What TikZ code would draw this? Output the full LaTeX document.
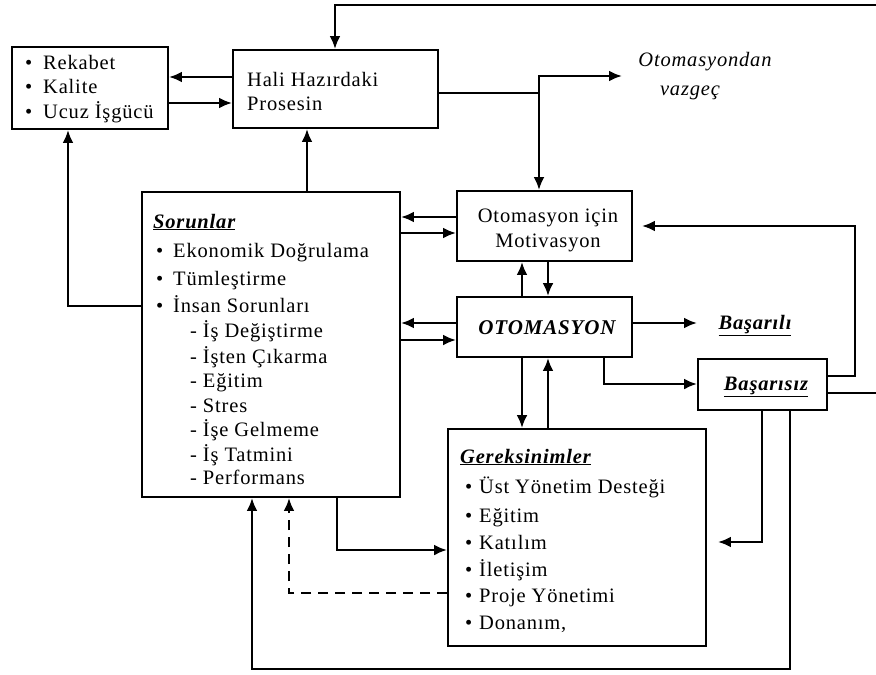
\documentclass[tikz,border=0pt]{standalone}
\usepackage{fontspec}
\setmainfont{Liberation Serif}[LetterSpace=4]
\usetikzlibrary{arrows.meta}
\tikzset{
  box/.style={draw, line width=1.8pt, inner sep=0pt, rectangle},
  conn/.style={line width=2.8pt, -{Latex[length=13pt,width=11pt]}},
  plainline/.style={line width=2.8pt},
  txt/.style={inner sep=0pt, anchor=base west, font=\fontsize{20.5}{24}\selectfont},
  ctxt/.style={txt, anchor=base},
  ttl/.style={txt, font=\fontsize{20.5}{24}\selectfont\bfseries\itshape},
}
\newcommand\itm[2][17pt]{\makebox[#1][l]{\textbullet}#2}
\begin{document}
\begin{tikzpicture}[x=1pt,y=-1pt]
\useasboundingbox (0,0) rectangle (876,675);
\clip (0,0) rectangle (876,675);
% boxes
\node[box, minimum width=156pt, minimum height=82pt] (rek) at (90,88) {};
\node[box, minimum width=205pt, minimum height=78pt] (hali) at (335.5,89) {};
\node[box, minimum width=258pt, minimum height=305pt] (sor) at (271,344.5) {};
\node[box, minimum width=175pt, minimum height=70pt] (mot) at (544.5,226) {};
\node[box, minimum width=175pt, minimum height=60pt] (oto) at (544.5,327) {};
\node[box, minimum width=129pt, minimum height=51pt] (bsz) at (762.5,384.5) {};
\node[box, minimum width=258pt, minimum height=217pt] (ger) at (577,537.5) {};
% texts
\node[txt] (rek1) at (25,69) {\itm[18pt]{Rekabet}};
\node[txt] (rek2) at (25,93) {\itm[18pt]{Kalite}};
\node[txt] (rek3) at (25,118) {\itm[18pt]{Ucuz İşgücü}};
\node[txt] (hal1) at (247,86) {Hali Hazırdaki};
\node[txt] (hal2) at (247,110) {Prosesin};
\node[ctxt] (vz1) at (705,66) {\itshape Otomasyondan};
\node[ctxt] (vz2) at (690,95) {\itshape vazgeç};
\node[ctxt] (mot1) at (548,222) {Otomasyon için};
\node[ctxt] (mot2) at (548,247) {Motivasyon};
\node[ctxt, font=\fontsize{21}{24}\selectfont\bfseries\itshape] (otot) at (547,334) {OTOMASYON};
\node[ctxt, font=\fontsize{20.5}{24}\selectfont\bfseries\itshape] (bsl) at (755,329) {\underline{Başarılı}};
\node[ctxt, font=\fontsize{20.5}{24}\selectfont\bfseries\itshape] (bszt) at (766,390) {\underline{Başarısız}};
\node[ttl] (sort) at (153,228) {\underline{Sorunlar}};
\node[txt] (s1) at (156,257) {\itm{Ekonomik Doğrulama}};
\node[txt] (s2) at (156,285) {\itm{Tümleştirme}};
\node[txt] (s3) at (156,312) {\itm{İnsan Sorunları}};
\node[txt] (d1) at (190,337) {- İş Değiştirme};
\node[txt] (d2) at (190,363) {- İşten Çıkarma};
\node[txt] (d3) at (190,387) {- Eğitim};
\node[txt] (d4) at (190,412) {- Stres};
\node[txt] (d5) at (190,436) {- İşe Gelmeme};
\node[txt] (d6) at (190,461) {- İş Tatmini};
\node[txt] (d7) at (190,484) {- Performans};
\node[ttl] (gert) at (460,463) {\underline{Gereksinimler}};
\node[txt] (g1) at (465,493) {\itm[14pt]{Üst Yönetim Desteği}};
\node[txt] (g2) at (465,522) {\itm[14pt]{Eğitim}};
\node[txt] (g3) at (465,549) {\itm[14pt]{Katılım}};
\node[txt] (g4) at (465,576) {\itm[14pt]{İletişim}};
\node[txt] (g5) at (465,602) {\itm[14pt]{Proje Yönetimi}};
\node[txt] (g6) at (465,629) {\itm[14pt]{Donanım,}};
% coordinates
\coordinate (sp) at (539,93);
\coordinate (vzend) at (622,76);
\coordinate (bslin) at (697,323);
\coordinate (rb) at (882,393);
\coordinate (tr) at (882,5);
\coordinate (rr) at (855,226);
\coordinate (bl) at (252,669);
% connectors
\draw[conn] (hali.west |- 0,77) -- (rek.east |- 0,77);
\draw[conn] (rek.east |- 0,103) -- (hali.west |- 0,103);
\draw[conn] (sor.north -| 307,0) -- (hali.south -| 307,0);
\draw[conn] (sor.west |- 0,306) -| (rek.south -| 68,0);
\draw[conn] (bsz.east |- 0,393) -- (rb) -- (tr) -| (hali.north -| 335,0);
\draw[plainline] (hali.east |- sp) -- (sp);
\draw[conn] (sp) |- (vzend);
\draw[conn] (sp) -- (mot.north -| sp);
\draw[conn] (mot.west |- 0,217) -- (sor.east |- 0,217);
\draw[conn] (sor.east |- 0,233) -- (mot.west |- 0,233);
\draw[conn] (oto.west |- 0,323) -- (sor.east |- 0,323);
\draw[conn] (sor.east |- 0,340) -- (oto.west |- 0,340);
\draw[conn] (oto.north -| 522,0) -- (mot.south -| 522,0);
\draw[conn] (mot.south -| 548,0) -- (oto.north -| 548,0);
\draw[conn] (oto.south -| 522,0) -- (ger.north -| 522,0);
\draw[conn] (ger.north -| 548,0) -- (oto.south -| 548,0);
\draw[conn] (oto.east |- bslin) -- (bslin);
\draw[conn] (oto.south -| 604,0) |- (bsz.west |- 0,384);
\draw[conn, shorten >=9pt] (bsz.east |- 0,376) -| (rr) -- (mot.east |- rr);
\draw[conn, shorten >=11pt] (bsz.south -| 762,0) |- (ger.east |- 0,542);
\draw[conn] (bsz.south -| 790,0) |- (bl) -- (sor.south -| bl);
\draw[conn] (sor.south -| 337,0) |- (ger.west |- 0,550);
\draw[conn, dash pattern=on 10pt off 7pt] (ger.west |- 0,593) -| (sor.south -| 289,0);
\end{tikzpicture}
\end{document}
